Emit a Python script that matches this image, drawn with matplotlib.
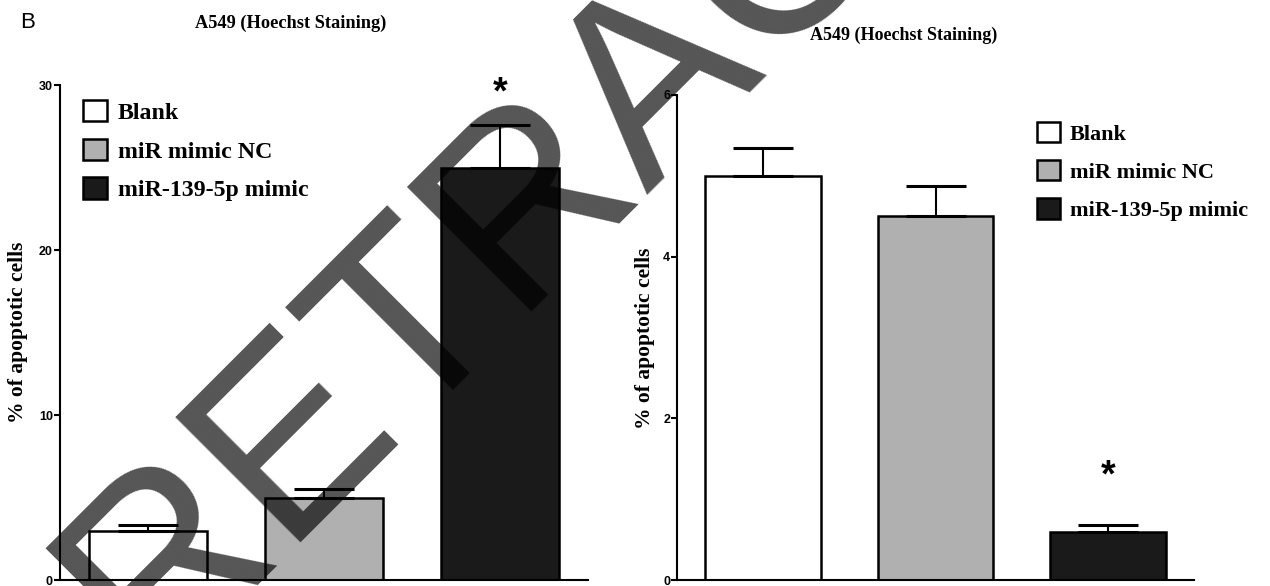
import matplotlib
matplotlib.use("Agg")
import matplotlib.pyplot as plt
from matplotlib.patches import Patch

# groups and colours
groups = ["Blank", "miR mimic NC", "miR-139-5p mimic"]
bar_colors = ["#ffffff", "#b0b0b0", "#1a1a1a"]

# left panel (% apoptotic cells)
left_means = [3.0, 5.0, 25.0]
left_err = [0.33, 0.5, 2.6]
left_ticks = [0, 10, 20, 30]
left_star = 29.5

# right panel
right_means = [5.0, 4.5, 0.6]
right_err = [0.34, 0.38, 0.08]
right_ticks = [0, 2, 4, 6]
right_star = 1.28

title = "A549 (Hoechst Staining)"
ylabel = "% of apoptotic cells"

SERIF = "Liberation Serif"
SANS = "Liberation Sans"

fig = plt.figure(figsize=(12.7, 5.86), dpi=100)
fig.patch.set_facecolor("white")


def px(x, y):
    # pixel position (from top-left) -> figure fraction
    return x / 1270, 1 - y / 586


def panel(rect, means, errs, ticks, star_y, legend_xy, legend_fs, hsize, lspace):
    ax = fig.add_axes(rect)
    x = list(range(len(means)))
    ax.bar(x, means, width=0.67, color=bar_colors, edgecolor="black",
           linewidth=1.8, zorder=2)
    ax.errorbar(x, means, yerr=[[0] * len(errs), errs], fmt="none",
                ecolor="black", elinewidth=1.5, capsize=21.5, capthick=2.2,
                zorder=3)
    ax.text(x[-1], star_y, "*", ha="center", va="center", fontsize=27,
            fontweight="bold", family=SANS)
    ax.set_xlim(-0.5, 2.5)
    ax.set_ylim(0, ticks[-1])
    ax.set_yticks(ticks)
    ax.set_xticks([])
    for s in ("top", "right"):
        ax.spines[s].set_visible(False)
    for s in ("left", "bottom"):
        ax.spines[s].set_linewidth(1.5)
    ax.tick_params(axis="y", length=4, width=1.5, pad=1, labelsize=9)
    for lab in ax.get_yticklabels():
        lab.set_family(SANS)
        lab.set_fontweight("bold")
    handles = [Patch(facecolor=c, edgecolor="black", linewidth=1.8) for c in bar_colors]
    fig.legend(handles, groups, loc="upper left", bbox_to_anchor=legend_xy,
               frameon=False, borderpad=0, borderaxespad=0,
               handlelength=hsize, handleheight=hsize, handletextpad=0.45,
               labelspacing=lspace,
               prop={"family": SERIF, "weight": "bold", "size": legend_fs})
    return ax


ax1 = panel([0.0472, 0.0102, 0.4157, 0.8447], left_means, left_err,
            left_ticks, left_star, px(83, 100), 17.2, 1.0, 0.62)
ax2 = panel([0.5331, 0.0102, 0.4071, 0.8277], right_means, right_err,
            right_ticks, right_star, px(1037, 122), 16, 1.02, 0.7)

# titles and labels
fig.text(*px(28, 23), "B", fontsize=16, family=SANS, ha="center", va="center")
fig.text(*px(291, 23), title, fontsize=13.2, family=SERIF,
         fontweight="bold", ha="center", va="center")
fig.text(*px(904, 35), title, fontsize=13, family=SERIF,
         fontweight="bold", ha="center", va="center")
fig.text(*px(18, 332), ylabel, fontsize=15.5, family=SERIF,
         fontweight="bold", rotation=90, ha="center", va="center")
fig.text(*px(645, 338), ylabel, fontsize=15.5, family=SERIF,
         fontweight="bold", rotation=90, ha="center", va="center")

# retraction watermark
fig.text(0.118, -0.147, "RETRACTED", rotation=45, rotation_mode="anchor",
         ha="left", va="baseline", fontsize=184, family=SANS,
         color="black", alpha=0.667, zorder=10)

fig.savefig("out.png", dpi=100)
